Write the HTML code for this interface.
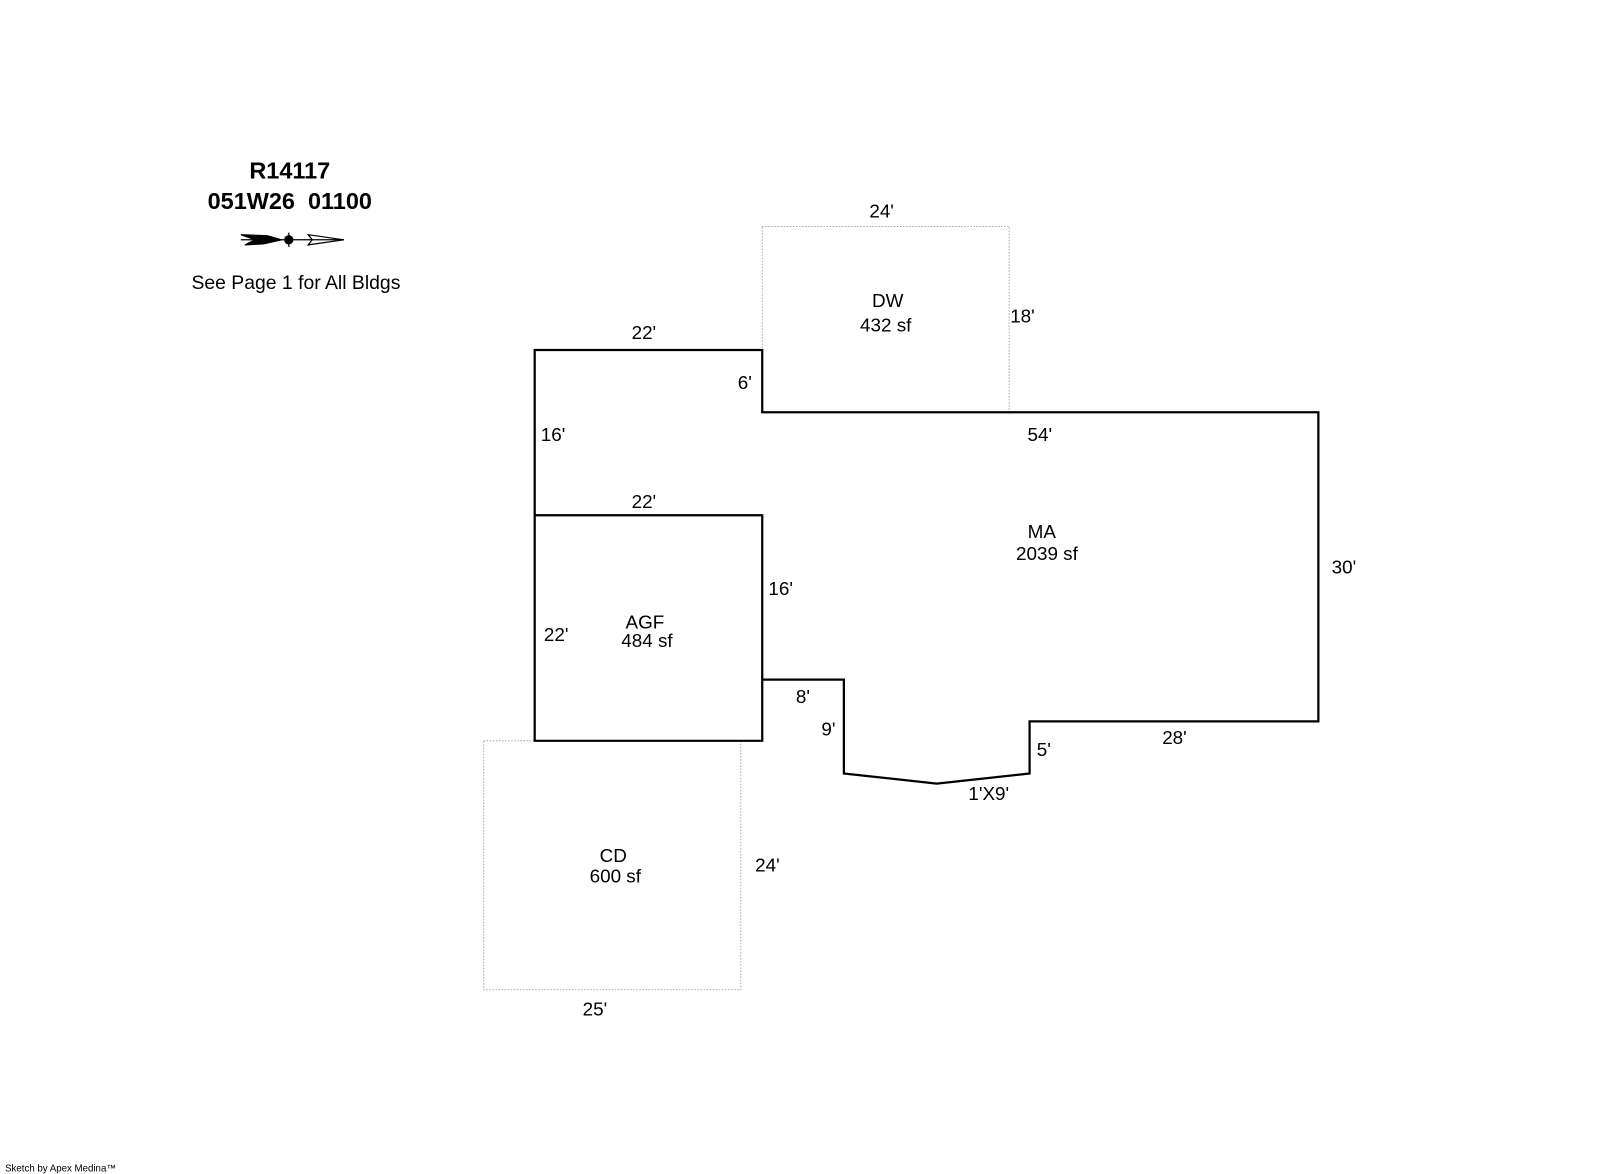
<!DOCTYPE html>
<html><head><meta charset="utf-8"><style>
html,body{margin:0;padding:0;background:#fff;}
svg{display:block;}
text{font-family:"Liberation Sans",Arial,sans-serif;fill:#000;}
</style></head><body>
<svg width="1600" height="1174" viewBox="0 0 1600 1174" xmlns="http://www.w3.org/2000/svg">
<rect width="1600" height="1174" fill="#fff"/>
<g transform="scale(1.0204)">
<text x="284" y="175" font-size="23" font-weight="bold" text-anchor="middle">R14117</text>
<text x="284" y="205" font-size="23" font-weight="bold" text-anchor="middle">051W26&#160; 01100</text>
<g stroke="#000" stroke-width="1.2">
<line x1="236" y1="235" x2="337" y2="235"/>
<polygon points="236,230 262,231 276,235 258,239 240,240 250,235" fill="#000"/>
<circle cx="283" cy="235" r="4" fill="#000"/>
<line x1="283" y1="228" x2="283" y2="242"/>
<polygon points="302,230 337,235 302,240 306,235" fill="none"/>
</g>
<text x="290" y="283" font-size="19" text-anchor="middle">See Page 1 for All Bldgs</text>

<g fill="none" stroke="#aaa" stroke-width="1" stroke-dasharray="1.5,1.5">
<rect x="747" y="222" width="242" height="182"/>
<rect x="474" y="726" width="252" height="244"/>
</g>
<g fill="none" stroke="#000" stroke-width="2.2" stroke-linejoin="miter">
<polygon points="524,343 747,343 747,404 1292,404 1292,707 1009,707 1009,758 918,768 827,758 827,666 747,666 747,726 524,726"/>
<polyline points="524,505 747,505 747,666"/>
</g>

<g font-size="18.5">
<text x="864" y="213" text-anchor="middle">24'</text>
<text x="870" y="301" text-anchor="middle">DW</text>
<text x="868" y="325" text-anchor="middle">432 sf</text>
<text x="990" y="316">18'</text>
<text x="631" y="332" text-anchor="middle">22'</text>
<text x="723" y="381">6'</text>
<text x="530" y="432">16'</text>
<text x="1019" y="432" text-anchor="middle">54'</text>
<text x="631" y="498" text-anchor="middle">22'</text>
<text x="1021" y="527" text-anchor="middle">MA</text>
<text x="1026" y="549" text-anchor="middle">2039 sf</text>
<text x="1305" y="562">30'</text>
<text x="753" y="583">16'</text>
<text x="632" y="616" text-anchor="middle">AGF</text>
<text x="634" y="634" text-anchor="middle">484 sf</text>
<text x="533" y="628">22'</text>
<text x="780" y="689">8'</text>
<text x="805" y="721">9'</text>
<text x="1151" y="729" text-anchor="middle">28'</text>
<text x="1016" y="741">5'</text>
<text x="969" y="784" text-anchor="middle">1'X9'</text>
<text x="601" y="845" text-anchor="middle">CD</text>
<text x="603" y="865" text-anchor="middle">600 sf</text>
<text x="740" y="854">24'</text>
<text x="583" y="995" text-anchor="middle">25'</text>
</g>
<text x="5" y="1148" font-size="9.5">Sketch by Apex Medina™</text>
</g>
</svg>
</body></html>
